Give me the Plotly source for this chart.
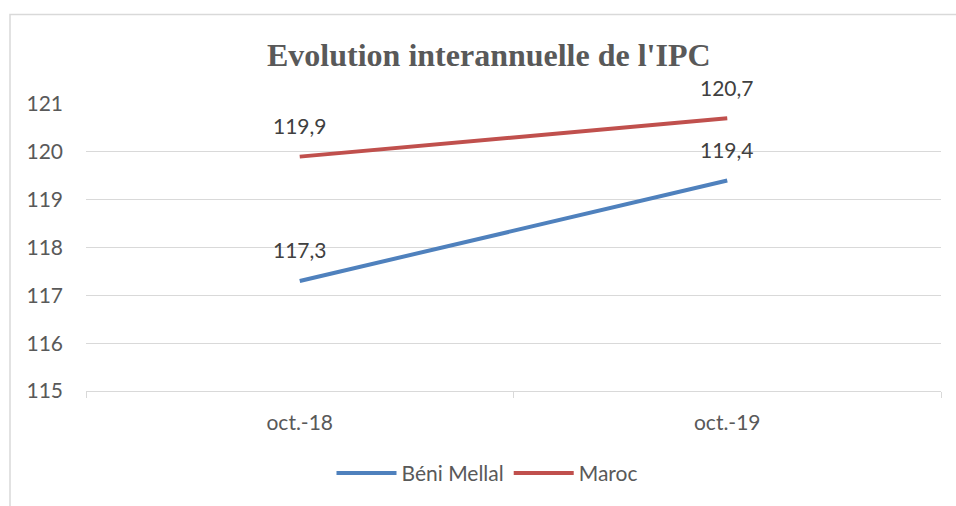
import plotly.graph_objects as go

categories = ["oct.-18", "oct.-19"]
beni_mellal = [117.3, 119.4]
maroc = [119.9, 120.7]
y_ticks = [115, 116, 117, 118, 119, 120, 121]

series = [("Béni Mellal", beni_mellal, "#4F81BD"), ("Maroc", maroc, "#C0504D")]

FONT = "Lato"
fig = go.Figure()
annotations = []
for name, vals, color in series:
    fig.add_trace(go.Scatter(x=categories, y=vals, mode="lines", name=name,
                             line=dict(color=color, width=4)))
    for c, v in zip(categories, vals):
        annotations.append(dict(x=c, y=v, xref="x", yref="y", text=f"{v:.1f}".replace(".", ","),
                                showarrow=False, yshift=31,
                                font=dict(family=FONT, size=21, color="#404040")))

annotations.append(dict(text="<b>Evolution interannuelle de l'IPC</b>", xref="paper", yref="paper",
                        x=(489 - 86) / 855, y=(393 - 55) / 289, showarrow=False,
                        yanchor="middle", xanchor="center",
                        font=dict(family="Liberation Serif", size=32, color="#595959")))

fig.update_layout(
    width=956, height=506,
    margin=dict(l=86, r=15, t=104, b=113),
    paper_bgcolor="white", plot_bgcolor="white",
    annotations=annotations,
    showlegend=True,
    legend=dict(orientation="h", x=(487 - 86) / 855, xanchor="center",
                y=-(476 - 393) / 289, yanchor="middle",
                font=dict(family=FONT, size=21, color="#595959"),
                itemwidth=60, tracegroupgap=0),
    shapes=[dict(type="rect", xref="paper", yref="paper",
                 x0=(10 - 86) / 855, x1=1.2, y0=-2, y1=(393 - 14) / 289,
                 line=dict(color="#d9d9d9", width=1.5), layer="below")],
)
fig.update_xaxes(type="category", range=[-0.5, 1.5], showgrid=False,
                 showline=True, linecolor="#d9d9d9", linewidth=1,
                 ticks="outside", tickson="boundaries", ticklen=6, tickcolor="#d9d9d9",
                 tickfont=dict(family=FONT, size=21, color="#595959"),
                 ticklabelstandoff=13)
fig.update_yaxes(range=[115, 121], tickvals=y_ticks, showgrid=True, gridcolor="#d9d9d9",
                 gridwidth=1, zeroline=False, showline=False,
                 tickfont=dict(family=FONT, size=21, color="#595959"),
                 ticklabelstandoff=22)

fig.write_html("out.html", config={"displayModeBar": False},
               post_script="document.body.style.margin='0';document.body.style.overflow='hidden';")
